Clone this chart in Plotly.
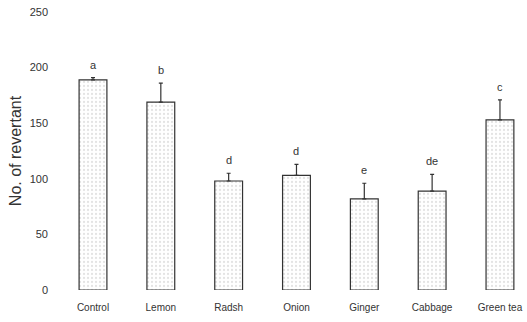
import plotly.graph_objects as go

categories = ["Control", "Lemon", "Radsh", "Onion", "Ginger", "Cabbage", "Green tea"]
values = [189, 169, 98, 103, 82, 89, 153]
errors = [2, 17, 7, 10, 14, 15, 18]
letters = ["a", "b", "d", "d", "e", "de", "c"]
yticks = [0, 50, 100, 150, 200, 250]

fig = go.Figure()
fig.add_trace(go.Bar(
    x=categories, y=values, width=0.41,
    marker=dict(color="white", line=dict(color="#333", width=1.2),
                pattern=dict(shape=".", fgcolor="#c8c8c8", bgcolor="white", size=4, solidity=0.25)),
    error_y=dict(type="data", array=errors, arrayminus=[0]*len(errors), symmetric=False,
                 color="#333", thickness=1.2, width=2),
))
for c, v, e, t in zip(categories, values, errors, letters):
    fig.add_annotation(x=c, y=v + e, text=t, showarrow=False, yanchor="bottom", yshift=5,
                       font=dict(size=11, color="#333", family="Liberation Sans"))

fig.update_layout(
    width=527, height=322, margin=dict(l=58, r=5, t=12, b=32),
    plot_bgcolor="white", paper_bgcolor="white", showlegend=False,
    font=dict(family="Liberation Sans", color="#333"),
    xaxis=dict(range=[-0.516, 6.325], showline=False, showgrid=False, ticks="",
               ticklabelstandoff=10, tickfont=dict(size=10, color="#333")),
    yaxis=dict(range=[0, 250], tickvals=yticks, showline=False, showgrid=False, zeroline=False,
               ticks="", ticklabelstandoff=9, tickfont=dict(size=11, color="#333"),
               title=dict(text="No. of revertant", font=dict(size=16, color="#333"), standoff=4)),
)
fig.write_html("out.html", config={"displayModeBar": False},
               post_script="document.body.style.margin='0';document.body.style.overflow='hidden';")
